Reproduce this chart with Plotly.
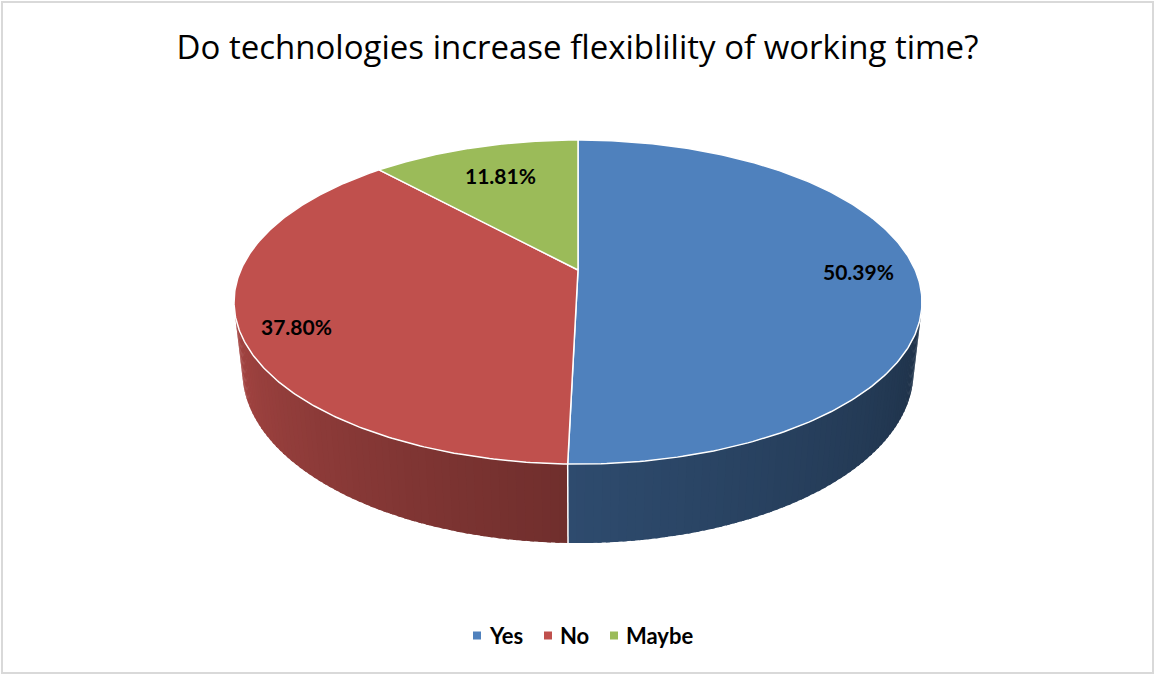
import numpy as np
import plotly.graph_objects as go

# Survey answers and their shares (percent)
categories = ["Yes", "No", "Maybe"]
shares = [50.39, 37.80, 11.81]
colors = ["#4F81BD", "#C0504D", "#9BBB59"]
title_text = "Do technologies increase flexiblility of working time?"

# Canvas and perspective camera for the tilted disc
W, H = 1155, 675
CX, CY = 578, 270          # screen position of the disc centre
ELEV = np.radians(27.5)    # camera elevation
DIST = 4.49                # camera distance (disc radius = 1)
FOC = 1514                 # focal length in pixels
THICK = 0.234              # disc thickness

# label placement (radial fraction and fine vertical nudge)
label_radius = [0.83, 0.84, 0.72]
label_nudge = [0, 8, -2]

# legend row: left edge of each colour key, and the row's vertical centre
legend_key_x = [473, 544, 610]
legend_y = 635.5
KEY = 8


def project(theta_deg, r=1.0, z=0.0):
    t = np.radians(theta_deg)
    X = r * np.sin(t)
    Y = r * np.cos(t)
    zc = Y * np.cos(ELEV) + DIST - z * np.sin(ELEV)
    yc = Y * np.sin(ELEV) + z * np.cos(ELEV)
    return CX + FOC * X / zc, CY - FOC * yc / zc


def shade(hex_color, factor):
    h = hex_color.lstrip("#")
    rgb = [int(h[i:i + 2], 16) for i in (0, 2, 4)]
    return "rgb({},{},{})".format(*[int(round(c * factor)) for c in rgb])


total = sum(shares)
bounds = np.concatenate([[0.0], np.cumsum(shares) / total * 360.0])

# visible part of the cylinder wall
sil = np.degrees(np.arccos(-1.0 / (DIST * np.cos(ELEV))))
wall_lo, wall_hi = sil, 360.0 - sil

fig = go.Figure()

# side walls, split into thin overlapping strips for a left-to-right light falloff
for i, cat in enumerate(categories):
    a, b = max(bounds[i], wall_lo), min(bounds[i + 1], wall_hi)
    if b <= a:
        continue
    n = max(2, int(np.ceil((b - a) / 1.2)))
    edges = np.linspace(a, b, n + 1)
    for k, (t0, t1) in enumerate(zip(edges[:-1], edges[1:])):
        t1x = min(t1 + 0.6, b)
        ts = np.linspace(t0, t1x, 4)
        tx, ty = project(ts, 1.0, 0.0)
        bx, by = project(ts[::-1], 1.0, -THICK)
        xs = np.concatenate([tx, bx, tx[:1]])
        ys = np.concatenate([ty, by, ty[:1]])
        f = np.interp(0.5 * (t0 + t1), [104, 181, 256], [0.38, 0.58, 0.86])
        col = shade(colors[i], f)
        fig.add_trace(go.Scatter(
            x=xs, y=ys, mode="lines", fill="toself", fillcolor=col,
            line=dict(color=col, width=0), hoverinfo="skip", showlegend=False))

# white seam where two walls meet
for edge in bounds[1:-1]:
    if wall_lo < edge < wall_hi:
        x0, y0 = project(edge, 1.0, 0.0)
        x1, y1 = project(edge, 1.0, -THICK)
        fig.add_trace(go.Scatter(
            x=[x0, x1], y=[y0, y1], mode="lines",
            line=dict(color="white", width=1.5), hoverinfo="skip", showlegend=False))

# top faces
for i, cat in enumerate(categories):
    ts = np.linspace(bounds[i], bounds[i + 1], 240)
    ax, ay = project(ts, 1.0, 0.0)
    cx0, cy0 = project(0.0, 0.0, 0.0)
    xs = np.concatenate([[cx0], ax, [cx0]])
    ys = np.concatenate([[cy0], ay, [cy0]])
    fig.add_trace(go.Scatter(
        x=xs, y=ys, mode="lines", fill="toself", fillcolor=colors[i],
        line=dict(color="white", width=1.5), name=cat,
        hoverinfo="skip", showlegend=False))

annotations = []
shapes = [dict(type="rect", xref="paper", yref="paper",
               x0=2 / W, x1=1 - 2 / W, y0=2 / H, y1=1 - 2 / H,
               line=dict(color="#D9D9D9", width=2))]

# percentage labels
for i, v in enumerate(shares):
    mid = 0.5 * (bounds[i] + bounds[i + 1])
    lx, ly = project(mid, label_radius[i], 0.0)
    annotations.append(dict(
        x=lx, y=ly + label_nudge[i], xref="x", yref="y", text=f"{v:.2f}%",
        showarrow=False, font=dict(family="Lato", size=21, color="black", weight="bold")))

# legend keys and names
for i, cat in enumerate(categories):
    kx = legend_key_x[i]
    shapes.append(dict(type="rect", xref="x", yref="y",
                       x0=kx, x1=kx + KEY, y0=legend_y - KEY / 2, y1=legend_y + KEY / 2,
                       fillcolor=colors[i], line=dict(width=0)))
    annotations.append(dict(
        x=kx + KEY + 6, y=legend_y, xref="x", yref="y", text=cat,
        xanchor="left", yanchor="middle", showarrow=False,
        font=dict(family="Lato", size=22, color="black", weight="bold")))

fig.update_layout(
    width=W, height=H,
    margin=dict(l=0, r=0, t=0, b=0, pad=0),
    paper_bgcolor="white", plot_bgcolor="white",
    title=dict(text=title_text, x=0.5, xanchor="center", y=1 - 47 / H, yanchor="middle",
               font=dict(family="Open Sans", size=33, color="black")),
    xaxis=dict(range=[0, W], visible=False, fixedrange=True),
    yaxis=dict(range=[H, 0], visible=False, fixedrange=True),
    showlegend=False,
    annotations=annotations,
    shapes=shapes,
)

fig.write_html("out.html")
